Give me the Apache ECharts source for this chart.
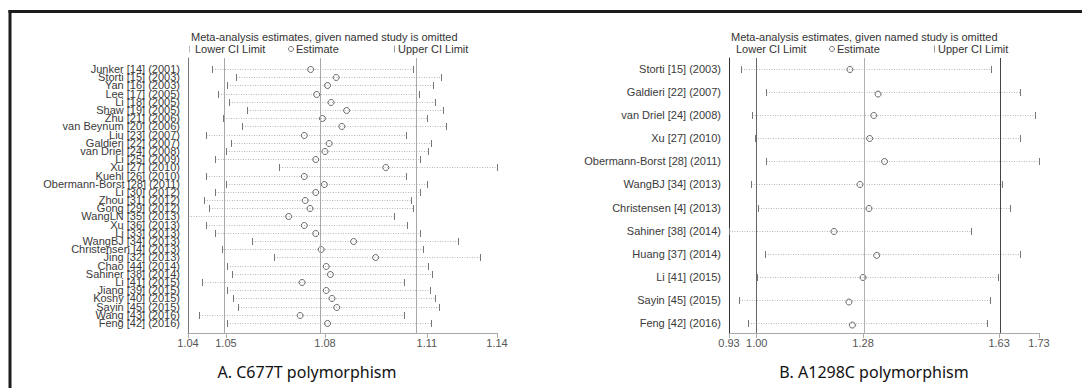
<!DOCTYPE html>
<html><head><meta charset="utf-8">
<script src="https://cdn.jsdelivr.net/npm/echarts@6/dist/echarts.min.js"></script>
<style>html,body{margin:0;padding:0;background:#fff}#c{width:1082px;height:388px}</style>
</head><body><div id="c"></div>
<script>
// ---------- Panel A: C677T ----------
const leftStudies = ['Junker [14] (2001)','Storti [15] (2003)','Yan [16] (2003)','Lee [17] (2005)','Li [18] (2005)','Shaw [19] (2005)','Zhu [21] (2006)','van Beynum [20] (2006)','Liu [23] (2007)','Galdieri [22] (2007)','van Driel [24] (2008)','Li [25] (2009)','Xu [27] (2010)','Kuehl [26] (2010)','Obermann-Borst [28] (2011)','Li [30] (2012)','Zhou [31] (2012)','Gong [29] (2012)','WangLN [35] (2013)','Xu [36] (2013)','Li [33] (2013)','WangBJ [34] (2013)','Christensen [4] (2013)','Jing [32] (2013)','Chao [44] (2014)','Sahiner [38] (2014)','Li [41] (2015)','Jiang [39] (2015)','Koshy [40] (2015)','Sayin [45] (2015)','Wang [43] (2016)','Feng [42] (2016)'];
const leftLower = [1.0459,1.0535,1.0506,1.0480,1.0515,1.0569,1.0495,1.0554,1.0441,1.0519,1.0503,1.0470,1.0671,1.0441,1.0504,1.0470,1.0436,1.0452,1.0385,1.0441,1.0470,1.0587,1.0493,1.0655,1.0508,1.0522,1.0428,1.0508,1.0527,1.0541,1.0421,1.0508];
const leftEst   = [1.0770,1.0850,1.0823,1.0789,1.0834,1.0883,1.0807,1.0868,1.0750,1.0828,1.0815,1.0786,1.1006,1.0750,1.0813,1.0786,1.0753,1.0768,1.0701,1.0750,1.0786,1.0905,1.0803,1.0974,1.0819,1.0832,1.0743,1.0819,1.0837,1.0852,1.0737,1.0823];
const leftUpper = [1.1090,1.1178,1.1153,1.1110,1.1161,1.1186,1.1134,1.1194,1.1070,1.1149,1.1138,1.1113,1.1354,1.1070,1.1135,1.1113,1.1084,1.1092,1.1032,1.1072,1.1113,1.1232,1.1124,1.1302,1.1138,1.1152,1.1064,1.1145,1.1159,1.1172,1.1063,1.1148];
const leftTickValues = [1.0385,1.0504,1.0815,1.1135,1.1355];
const leftTickLabels = ['1.04','1.05','1.08','1.11','1.14'];

// ---------- Panel B: A1298C ----------
const rightStudies = ['Storti [15] (2003)','Galdieri [22] (2007)','van Driel [24] (2008)','Xu [27] (2010)','Obermann-Borst [28] (2011)','WangBJ [34] (2013)','Christensen [4] (2013)','Sahiner [38] (2014)','Huang [37] (2014)','Li [41] (2015)','Sayin [45] (2015)','Feng [42] (2016)'];
const rightLower = [0.9605,1.0257,0.9900,0.9970,1.0257,0.9864,1.0052,0.9300,1.0239,1.0016,0.9569,0.9784];
const rightEst   = [1.2421,1.3135,1.3036,1.2930,1.3313,1.2680,1.2912,1.2010,1.3109,1.2760,1.2385,1.2473];
const rightUpper = [1.6067,1.6798,1.7184,1.6798,1.7300,1.6336,1.6558,1.5557,1.6798,1.6250,1.6023,1.5950];
const rightTickValues = [0.93,1.0016,1.276,1.627,1.73];
const rightTickLabels = ['0.93','1.00','1.28','1.63','1.73'];

const TITLE = 'Meta-analysis estimates, given named study is omitted';
const FONT = '"Liberation Sans", Arial, sans-serif';

function renderRow(params, api) {
  const idx = api.value(3);
  const pL = api.coord([api.value(0), idx]);
  const pE = api.coord([api.value(1), idx]);
  const pU = api.coord([api.value(2), idx]);
  const y = Math.round(pE[1]) + 0.5;
  const xl = Math.round(pL[0]) + 0.5, xu = Math.round(pU[0]) + 0.5;
  return {type: 'group', children: [
    {type: 'line', shape: {x1: xl, y1: y, x2: xu, y2: y}, style: {stroke: '#b8b8b8', lineWidth: 1, lineDash: [1, 1.5]}},
    {type: 'line', shape: {x1: xl, y1: y - 3.5, x2: xl, y2: y + 3.5}, style: {stroke: '#777', lineWidth: 1}},
    {type: 'line', shape: {x1: xu, y1: y - 3.5, x2: xu, y2: y + 3.5}, style: {stroke: '#777', lineWidth: 1}},
    {type: 'circle', shape: {cx: pE[0], cy: y, r: 3}, style: {fill: 'rgba(255,255,255,0)', stroke: '#666', lineWidth: 1}}
  ]};
}

function labelFor(values, labels) {
  return function (v) {
    const i = values.findIndex(t => Math.abs(t - v) < 1e-7);
    return i >= 0 ? labels[i] : '';
  };
}

function xAxisFor(gridIndex, values, labels) {
  return {
    type: 'value', gridIndex: gridIndex, min: values[0], max: values[values.length - 1],
    axisLine: {show: true, onZero: false, lineStyle: {color: '#aaa', width: 1}},
    axisTick: {show: true, customValues: values, length: 5, lineStyle: {color: '#aaa'}},
    axisLabel: {customValues: values, formatter: labelFor(values, labels), fontSize: 11, color: '#555', margin: 4, fontFamily: FONT, showMinLabel: true, showMaxLabel: true},
    splitLine: {show: false}
  };
}

// y axis carrying the study labels at the given row indices
function yAxisFor(gridIndex, studies, rows, min, max, lineColor, showLine) {
  return {
    type: 'value', gridIndex: gridIndex, inverse: true, min: min, max: max, position: 'left', offset: 0,
    axisLine: {show: showLine, onZero: false, lineStyle: {color: lineColor, width: 1}},
    axisTick: {show: false},
    axisLabel: {customValues: rows, formatter: v => studies[Math.round(v)], fontSize: 11, color: '#3a3a3a', margin: 8, fontFamily: FONT, showMinLabel: true, showMaxLabel: true, hideOverlap: false},
    splitLine: {show: false}
  };
}

function refLines(values, colors) {
  return {
    silent: true, symbol: ['none', 'none'], label: {show: false}, animation: false,
    data: values.slice(1, 4).map((v, i) => ({xAxis: v, lineStyle: {color: colors[i], width: 1, type: 'solid'}}))
  };
}

const leftData = leftStudies.map((s, i) => [leftLower[i], leftEst[i], leftUpper[i], i]);
const rightData = rightStudies.map((s, i) => [rightLower[i], rightEst[i], rightUpper[i], i]);
const leftEven = leftStudies.map((_, i) => i).filter(i => i % 2 === 0);
const leftOdd = leftStudies.map((_, i) => i).filter(i => i % 2 === 1);

const txt = (x, y, text, extra) => Object.assign({type: 'text', x: x, y: y, style: {text: text, fill: '#333', fontSize: 11, fontFamily: FONT, textVerticalAlign: 'middle'}}, extra || {});
const vtick = (x, y, color) => ({type: 'line', shape: {x1: x, y1: y - 3.5, x2: x, y2: y + 3.5}, style: {stroke: color, lineWidth: 1}});

const TY = 37, LY = 49;
const graphic = [
  {type: 'line', shape: {x1: 8.5, y1: 11.5, x2: 1082, y2: 11.5}, style: {stroke: '#1c1c1c', lineWidth: 3}},
  {type: 'line', shape: {x1: 10, y1: 10, x2: 10, y2: 388}, style: {stroke: '#1c1c1c', lineWidth: 3}},
  // panel A header
  txt(191, TY, TITLE),
  vtick(189.5, LY, '#bbb'), txt(195, LY, 'Lower CI Limit'),
  {type: 'circle', shape: {cx: 291, cy: LY, r: 2.5}, style: {fill: 'none', stroke: '#777', lineWidth: 1}},
  txt(296, LY, 'Estimate'),
  vtick(394.5, LY, '#999'), txt(398, LY, 'Upper CI Limit'),
  // panel B header
  txt(731, TY, TITLE),
  txt(736, LY, 'Lower CI Limit'),
  {type: 'circle', shape: {cx: 832, cy: LY, r: 2.5}, style: {fill: 'none', stroke: '#777', lineWidth: 1}},
  txt(837, LY, 'Estimate'),
  vtick(934.5, LY, '#999'), txt(938, LY, 'Upper CI Limit'),
  // sub captions
  {type: 'text', x: 307, y: 372, style: {text: 'A. C677T polymorphism', fill: '#111', fontSize: 16, fontFamily: 'Noto Sans, sans-serif', textAlign: 'center', textVerticalAlign: 'middle'}},
  {type: 'text', x: 874, y: 372, style: {text: 'B. A1298C polymorphism', fill: '#111', fontSize: 16, fontFamily: 'Noto Sans, sans-serif', textAlign: 'center', textVerticalAlign: 'middle'}}
];

const chart = echarts.init(document.getElementById('c'), null, {renderer: 'svg'});
chart.setOption({
  animation: false,
  backgroundColor: '#fff',
  grid: [
    {left: 188, width: 309, top: 58, height: 275},
    {left: 729, width: 310, top: 58, height: 275}
  ],
  xAxis: [xAxisFor(0, leftTickValues, leftTickLabels), xAxisFor(1, rightTickValues, rightTickLabels)],
  yAxis: [
    yAxisFor(0, leftStudies, leftEven, -1.342, 32.22, '#777', true),
    yAxisFor(0, leftStudies, leftOdd, -1.342, 32.22, '#777', false),
    yAxisFor(1, rightStudies, rightStudies.map((_, i) => i), -0.476, 11.43, '#333', true)
  ],
  series: [
    {type: 'custom', xAxisIndex: 0, yAxisIndex: 0, renderItem: renderRow, data: leftData, encode: {x: [0, 1, 2], y: 3}, silent: true,
     markLine: refLines(leftTickValues, ['#a8a8a8', '#a8a8a8', '#a8a8a8'])},
    {type: 'custom', xAxisIndex: 1, yAxisIndex: 2, renderItem: renderRow, data: rightData, encode: {x: [0, 1, 2], y: 3}, silent: true,
     markLine: refLines(rightTickValues, ['#666', '#b0b0b0', '#444'])}
  ],
  graphic: graphic
});
</script>
</body></html>
